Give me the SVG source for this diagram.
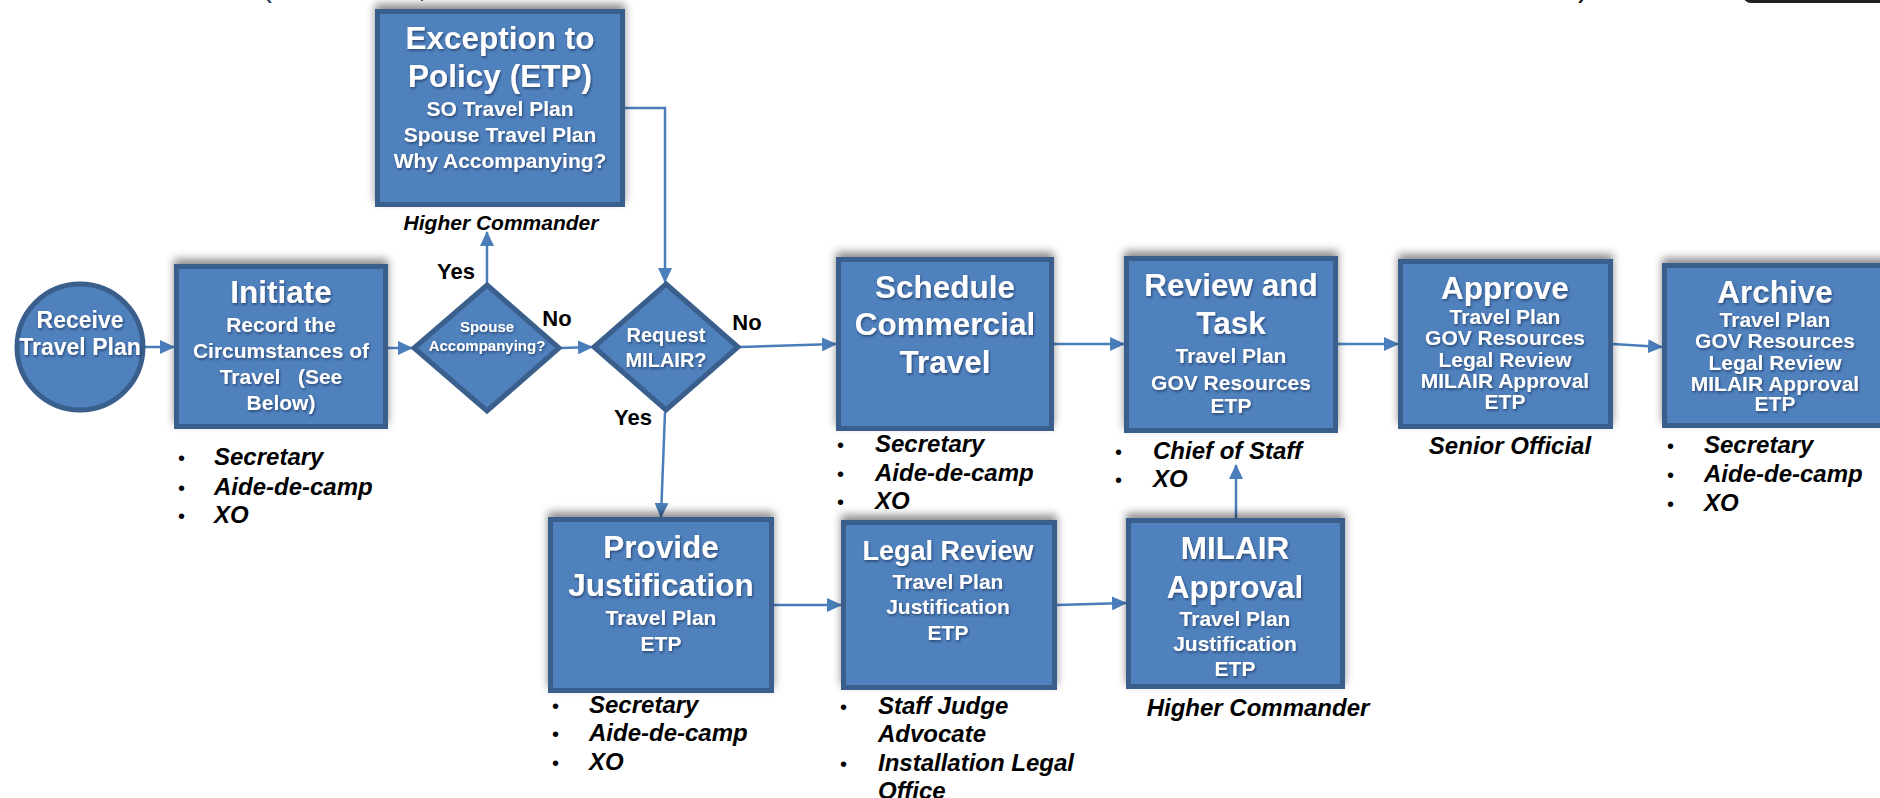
<svg xmlns="http://www.w3.org/2000/svg" width="1880" height="798" viewBox="0 0 1880 798">
<defs>
<style>
.box{fill:#4F81BD;stroke:#3A5F8C;stroke-width:5}
.wt{fill:#fff;font-family:"Liberation Sans",Arial,sans-serif;font-weight:bold;text-anchor:middle}
.t{font-size:31.5px}
.s{font-size:21px}
.bl{fill:#000;font-family:"Liberation Sans",Arial,sans-serif;font-weight:bold;font-style:italic;font-size:24px}
.bls{font-size:21px}
.bu{fill:#000;font-family:"Liberation Sans",Arial,sans-serif;font-size:20px}
.yn{fill:#000;font-family:"Liberation Sans",Arial,sans-serif;font-weight:bold;font-size:22px;text-anchor:middle}
.conn{stroke:#4A7EBB;stroke-width:2.5;fill:none;marker-end:url(#arr)}
</style>
<marker id="arr" markerUnits="userSpaceOnUse" markerWidth="15" markerHeight="14" refX="14" refY="7" orient="auto">
<path d="M0,0 L15,7 L0,14 z" fill="#4A7EBB"/>
</marker>
<filter id="bsh" x="-10%" y="-20%" width="120%" height="140%">
<feGaussianBlur in="SourceAlpha" stdDeviation="4"/>
<feOffset dx="0" dy="-5" result="o"/>
<feFlood flood-color="#000" flood-opacity="0.45"/>
<feComposite in2="o" operator="in"/>
<feMerge><feMergeNode/><feMergeNode in="SourceGraphic"/></feMerge>
</filter>
<filter id="tsh" x="-10%" y="-10%" width="120%" height="130%">
<feDropShadow dx="1" dy="1.5" stdDeviation="0.8" flood-color="#14243a" flood-opacity="0.6"/>
</filter>
</defs>
<rect width="1880" height="798" fill="#fff"/>

<g id="top-fragments">
<text x="262" y="-3" font-family="Liberation Sans, Arial, sans-serif" font-size="30" fill="#1F3864">(</text>
<text x="418" y="-3" font-family="Liberation Sans, Arial, sans-serif" font-size="30" fill="#1F3864">,</text>
<text x="1578" y="-3" font-family="Liberation Sans, Arial, sans-serif" font-size="30" fill="#000">)</text>
<rect x="1743" y="-20" width="160" height="23" rx="8" fill="#231f1c"/>
</g>

<g id="connectors">
<line class="conn" x1="144" y1="347" x2="174" y2="347"/>
<line class="conn" x1="388" y1="348" x2="412" y2="348"/>
<line class="conn" x1="487" y1="283" x2="487" y2="232"/>
<polyline class="conn" points="625,108 665,108 665,282"/>
<line class="conn" x1="561" y1="348" x2="592" y2="347"/>
<line class="conn" x1="740" y1="347" x2="836" y2="344"/>
<line class="conn" x1="665" y1="412" x2="661" y2="517"/>
<line class="conn" x1="1054" y1="344" x2="1124" y2="344"/>
<line class="conn" x1="1338" y1="344" x2="1398" y2="344"/>
<line class="conn" x1="1613" y1="344" x2="1662" y2="347"/>
<line class="conn" x1="774" y1="605" x2="841" y2="605"/>
<line class="conn" x1="1057" y1="605" x2="1126" y2="603"/>
<line class="conn" x1="1236" y1="518" x2="1236" y2="465"/>
</g>

<g id="receive">
<circle class="box" cx="80" cy="347" r="63"/>
<g class="wt" filter="url(#tsh)" font-size="23">
<text x="80" y="328">Receive</text>
<text x="80" y="355">Travel Plan</text>
</g>
</g>

<g id="initiate">
<rect class="box" x="176.5" y="266.5" width="209" height="160" filter="url(#bsh)"/>
<g class="wt" filter="url(#tsh)">
<text class="t" x="281" y="303">Initiate</text>
<text class="s" x="281" y="331.5">Record the</text>
<text class="s" x="281" y="357.5">Circumstances of</text>
<text class="s" x="281" y="383.5" xml:space="preserve">Travel   (See</text>
<text class="s" x="281" y="409.5">Below)</text>
</g>
<text class="bu" x="178" y="464.5">•</text><text class="bl" x="214" y="464.5">Secretary</text>
<text class="bu" x="178" y="494.5">•</text><text class="bl" x="214" y="494.5">Aide-de-camp</text>
<text class="bu" x="178" y="522.5">•</text><text class="bl" x="214" y="522.5">XO</text>
</g>

<g id="spouse">
<polygon class="box" points="487,285 559,348 487,411 414,348"/>
<g class="wt" filter="url(#tsh)" font-size="15">
<text x="487" y="332">Spouse</text>
<text x="487" y="351">Accompanying?</text>
</g>
<text class="yn" x="456" y="279">Yes</text>
<text class="yn" x="557" y="326">No</text>
</g>

<g id="request">
<polygon class="box" points="666,284 738,347 666,410 594,347"/>
<g class="wt" filter="url(#tsh)" font-size="20">
<text x="666" y="342">Request</text>
<text x="666" y="367">MILAIR?</text>
</g>
<text class="yn" x="747" y="330">No</text>
<text class="yn" x="633" y="425">Yes</text>
</g>

<g id="exception">
<rect class="box" x="377.5" y="11.5" width="245" height="193" filter="url(#bsh)"/>
<g class="wt" filter="url(#tsh)">
<text class="t" x="500" y="49">Exception to</text>
<text class="t" x="500" y="87">Policy (ETP)</text>
<text class="s" x="500" y="116">SO Travel Plan</text>
<text class="s" x="500" y="142">Spouse Travel Plan</text>
<text class="s" x="500" y="168">Why Accompanying?</text>
</g>
<text class="bl bls" x="501" y="230" text-anchor="middle">Higher Commander</text>
</g>

<g id="schedule">
<rect class="box" x="838.5" y="259.5" width="213" height="169" filter="url(#bsh)"/>
<g class="wt t" filter="url(#tsh)">
<text x="945" y="298">Schedule</text>
<text x="945" y="335">Commercial</text>
<text x="945" y="373">Travel</text>
</g>
<text class="bu" x="837" y="451.5">•</text><text class="bl" x="875" y="451.5">Secretary</text>
<text class="bu" x="837" y="480.5">•</text><text class="bl" x="875" y="480.5">Aide-de-camp</text>
<text class="bu" x="837" y="508.5">•</text><text class="bl" x="875" y="508.5">XO</text>
</g>

<g id="review">
<rect class="box" x="1126.5" y="258.5" width="209" height="172" filter="url(#bsh)"/>
<g class="wt" filter="url(#tsh)">
<text class="t" x="1231" y="296">Review and</text>
<text class="t" x="1231" y="334">Task</text>
<text class="s" x="1231" y="362.5">Travel Plan</text>
<text class="s" x="1231" y="389.5">GOV Resources</text>
<text class="s" x="1231" y="412.5">ETP</text>
</g>
<text class="bu" x="1115" y="458.5">•</text><text class="bl" x="1153" y="458.5">Chief of Staff</text>
<text class="bu" x="1115" y="486.5">•</text><text class="bl" x="1153" y="486.5">XO</text>
</g>

<g id="approve">
<rect class="box" x="1400.5" y="261.5" width="210" height="165" filter="url(#bsh)"/>
<g class="wt" filter="url(#tsh)">
<text class="t" x="1505" y="299">Approve</text>
<text class="s" x="1505" y="323.5">Travel Plan</text>
<text class="s" x="1505" y="344.5">GOV Resources</text>
<text class="s" x="1505" y="366.5">Legal Review</text>
<text class="s" x="1505" y="387.5">MILAIR Approval</text>
<text class="s" x="1505" y="408.5">ETP</text>
</g>
<text class="bl" x="1510" y="453.5" text-anchor="middle">Senior Official</text>
</g>

<g id="archive">
<rect class="box" x="1664.5" y="265.5" width="230" height="160" filter="url(#bsh)"/>
<g class="wt" filter="url(#tsh)">
<text class="t" x="1775" y="303">Archive</text>
<text class="s" x="1775" y="326.5">Travel Plan</text>
<text class="s" x="1775" y="347.5">GOV Resources</text>
<text class="s" x="1775" y="369.5">Legal Review</text>
<text class="s" x="1775" y="390.5">MILAIR Approval</text>
<text class="s" x="1775" y="410.5">ETP</text>
</g>
<text class="bu" x="1667" y="452.5">•</text><text class="bl" x="1704" y="452.5">Secretary</text>
<text class="bu" x="1667" y="481.5">•</text><text class="bl" x="1704" y="481.5">Aide-de-camp</text>
<text class="bu" x="1667" y="510.5">•</text><text class="bl" x="1704" y="510.5">XO</text>
</g>

<g id="provide">
<rect class="box" x="550.5" y="519.5" width="221" height="171" filter="url(#bsh)"/>
<g class="wt" filter="url(#tsh)">
<text class="t" x="661" y="558">Provide</text>
<text class="t" x="661" y="596">Justification</text>
<text class="s" x="661" y="624.5">Travel Plan</text>
<text class="s" x="661" y="650.5">ETP</text>
</g>
<text class="bu" x="552" y="712.5">•</text><text class="bl" x="589" y="712.5">Secretary</text>
<text class="bu" x="552" y="740.5">•</text><text class="bl" x="589" y="740.5">Aide-de-camp</text>
<text class="bu" x="552" y="769.5">•</text><text class="bl" x="589" y="769.5">XO</text>
</g>

<g id="legal">
<rect class="box" x="843.5" y="522.5" width="211" height="165" filter="url(#bsh)"/>
<g class="wt" filter="url(#tsh)">
<text x="948" y="559.5" font-size="27">Legal Review</text>
<text class="s" x="948" y="588.5">Travel Plan</text>
<text class="s" x="948" y="613.5">Justification</text>
<text class="s" x="948" y="639.5">ETP</text>
</g>
<text class="bu" x="840" y="713.5">•</text><text class="bl" x="878" y="713.5">Staff Judge</text>
<text class="bl" x="878" y="741.5">Advocate</text>
<text class="bu" x="840" y="770.5">•</text><text class="bl" x="878" y="770.5">Installation Legal</text>
<text class="bl" x="878" y="798.5">Office</text>
</g>

<g id="milair">
<rect class="box" x="1128.5" y="520.5" width="214" height="166" filter="url(#bsh)"/>
<g class="wt" filter="url(#tsh)">
<text class="t" x="1235" y="559">MILAIR</text>
<text class="t" x="1235" y="598">Approval</text>
<text class="s" x="1235" y="625.5">Travel Plan</text>
<text class="s" x="1235" y="650.5">Justification</text>
<text class="s" x="1235" y="675.5">ETP</text>
</g>
<text class="bl" x="1258" y="715.5" text-anchor="middle">Higher Commander</text>
</g>
</svg>
